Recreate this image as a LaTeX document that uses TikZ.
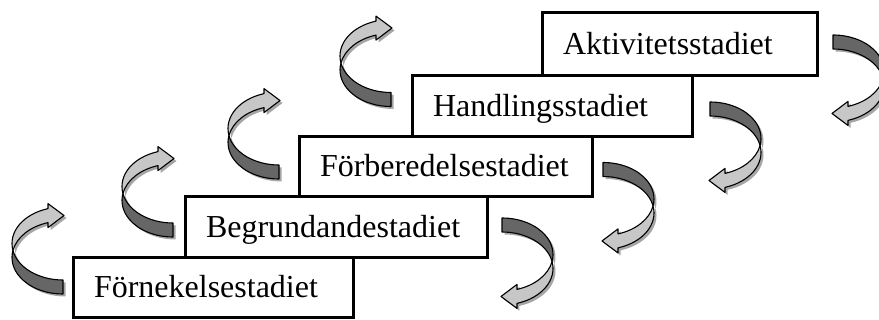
\documentclass[tikz,border=0pt]{standalone}
\usepackage{fontspec}
\setmainfont{Liberation Serif}
\definecolor{lightband}{gray}{0.78}
\definecolor{darkband}{gray}{0.40}
\definecolor{bandshadow}{gray}{0.65}
\newcommand{\bandup}{(168.94:51 and 36.5) arc[start angle=168.94,end angle=252.9,x radius=51,y radius=36.5] -- ++(0,-5) -- (1,-28) -- (-15,-15.89) -- (-15,-20.89) arc[start angle=252.9,end angle=191.06,x radius=51,y radius=36.5] -- cycle}
\newcommand{\banddown}{(168.94:51 and 36.5) arc[start angle=168.94,end angle=90,x radius=51,y radius=36.5] -- (0,50.5) arc[start angle=90,end angle=191.06,x radius=51,y radius=36.5] -- cycle}
\newcommand{\stagearrow}[3]{%
\fill[bandshadow,shift={(#1+2.5,#2+2.5)},rotate=#3] \bandup \banddown;
\begin{scope}[shift={(#1,#2)},rotate=#3,line width=1.1pt,line join=round]
\filldraw[fill=lightband] \bandup;
\filldraw[fill=darkband] \banddown;
\end{scope}}

\begin{document}
\begin{tikzpicture}[x=1pt,y=-1pt,
  stagebox/.style={draw,line width=3pt,fill=white,anchor=north west,inner xsep=21pt,inner ysep=0pt,outer sep=0pt,
    align=flush left,text height=26pt,text depth=6pt,font=\fontsize{32}{38}\selectfont}]
\useasboundingbox (0,0) rectangle (879,320);
% stages, from the bottom up
\node[stagebox,text width=238pt,minimum height=60pt] (fornekelse) at (73,258) {Förnekelsestadiet};
\node[stagebox,text width=260pt,minimum height=61pt] (begrundande) at (185,197) {Begrundandestadiet};
\node[stagebox,text width=251pt,minimum height=60pt] (forberedelse) at (299,137) {Förberedelsestadiet};
\node[stagebox,text width=238pt,minimum height=61pt] (handling) at (412,76) {Handlingsstadiet};
\node[stagebox,text width=233pt,minimum height=63pt] (aktivitet) at (542,13) {Aktivitetsstadiet};
% ribbon arrows, up on the left and down on the right
\foreach \cx/\cy in {63/243.5,173/186.5,279/128.5,391/56}
  {\stagearrow{\cx}{\cy}{0}}
\foreach \cx/\cy in {502/268.5,603/213,710/152.5,833/85.5}
  {\stagearrow{\cx}{\cy}{180}}
\end{tikzpicture}
\end{document}
